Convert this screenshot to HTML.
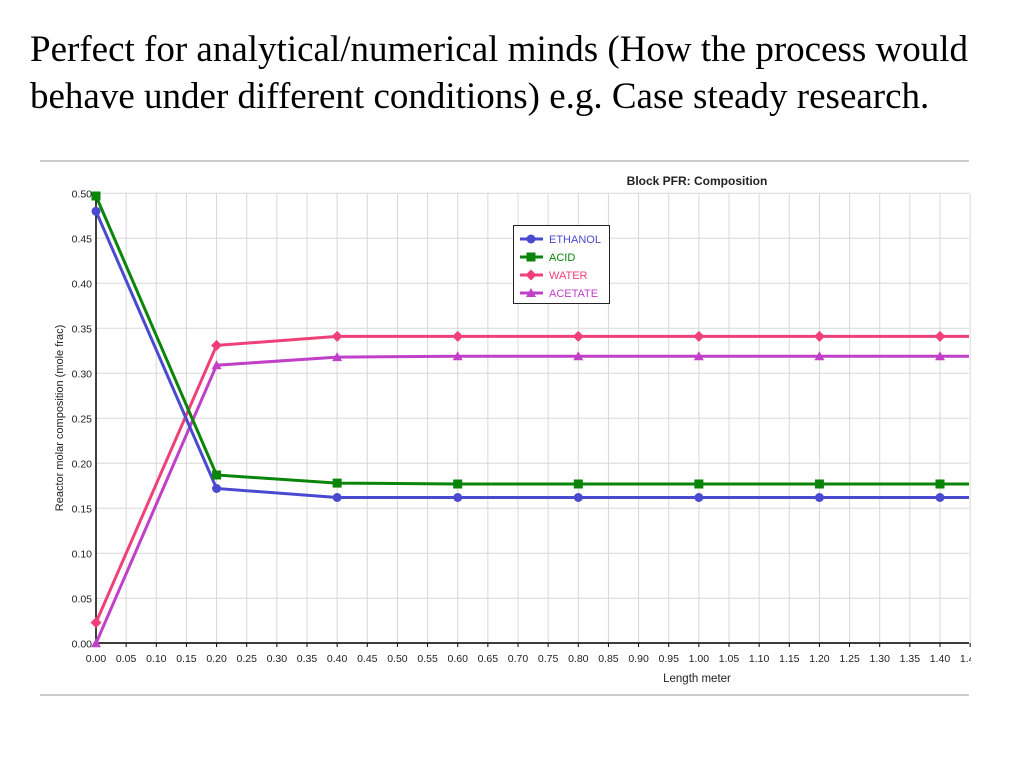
<!DOCTYPE html>
<html><head><meta charset="utf-8"><style>
body{margin:0;width:1024px;height:768px;background:#fff;overflow:hidden;position:relative}
#title{position:absolute;left:30px;top:26px;font-family:"Liberation Serif",serif;font-size:37px;line-height:47px;color:#000;margin:0;font-weight:normal;white-space:nowrap}
svg{position:absolute;left:0;top:0}
</style></head><body>
<h1 id="title">Perfect for analytical/numerical minds (How the process would<br>behave under different conditions) e.g. Case steady research.</h1>
<svg id="chart" width="1024" height="768" font-family="Liberation Sans, sans-serif"></svg>
<script>
const xVals=[0,0.2,0.4,0.6,0.8,1.0,1.2,1.4,1.6];
const ethanol=[0.480,0.172,0.162,0.162,0.162,0.162,0.162,0.162,0.162];
const acid=[0.497,0.187,0.178,0.177,0.177,0.177,0.177,0.177,0.177];
const water=[0.023,0.331,0.341,0.341,0.341,0.341,0.341,0.341,0.341];
const acetate=[0.000,0.309,0.318,0.319,0.319,0.319,0.319,0.319,0.319];
const seriesNames=["ETHANOL","ACID","WATER","ACETATE"];
const seriesColors=["#4a4ad0","#0a850a","#f0407a","#c040c8"];
const yTicks=[0,0.05,0.10,0.15,0.20,0.25,0.30,0.35,0.40,0.45,0.50];
const xTickCount=30;
const svg=document.getElementById('chart');
const NS='http://www.w3.org/2000/svg';
const X=v=>96+v*(844/1.4);
const Y=v=>643.3-v*900;
const L=96,R=969,T=193,B=643;
function mk(t,a,p){const e=document.createElementNS(NS,t);for(const k in a)e.setAttribute(k,a[k]);(p||svg).appendChild(e);return e;}
let e;
const clipAll=mk('clipPath',{id:'ca'});mk('rect',{x:0,y:0,width:971,height:768},clipAll);
const root=mk('g',{'clip-path':'url(#ca)'});


e=mk('line',{x1:40,y1:161,x2:969,y2:161,stroke:'#ccc','stroke-width':2},root);


e=mk('line',{x1:40,y1:695,x2:969,y2:695,stroke:'#ccc','stroke-width':2},root);


const clip=mk('clipPath',{id:'pc'});mk('rect',{x:L-10,y:T-10,width:R-L+10,height:B-T+20},clip);
for(let i=0;i<xTickCount;i++){const v=i*0.05;const x=X(v);
 e=mk('line',{x1:x,y1:T,x2:x,y2:B,stroke:'#d8d8d8'},root);
 
 
 e=mk('line',{x1:x,y1:B,x2:x,y2:B+4,stroke:'#000'},root);
 
 
 e=mk('text',{x:x,y:B+19,'font-size':10.5,'text-anchor':'middle',fill:'#222'},root);e.textContent=v.toFixed(2);
 
 }
for(const v of yTicks){const y=Y(v);
 e=mk('line',{x1:L,y1:y,x2:R,y2:y,stroke:'#d8d8d8'},root);
 
 
 e=mk('text',{x:L-4,y:y+4,'font-size':10.5,'text-anchor':'end',fill:'#222'},root);e.textContent=v.toFixed(2);
 
 }
e=mk('line',{x1:L,y1:T,x2:L,y2:B,stroke:'#000','stroke-width':1.5},root);


e=mk('line',{x1:L,y1:B,x2:R,y2:B,stroke:'#000','stroke-width':1.5},root);


e=mk('text',{x:697,y:682,'font-size':11.5,'text-anchor':'middle',fill:'#222'},root);e.textContent='Length meter';


e=mk('text',{x:0,y:0,'font-size':11,'text-anchor':'middle',fill:'#222',transform:'translate(63,418) rotate(-90)'},root);e.textContent='Reactor molar composition (mole frac)';


e=mk('text',{x:697,y:185,'font-size':12,'font-weight':'bold','text-anchor':'middle',fill:'#222'},root);e.textContent='Block PFR: Composition';


function marker(k,x,y,c,g){
 if(k==0)return mk('circle',{cx:x,cy:y,r:4.5,fill:c},g);
 if(k==1)return mk('rect',{x:x-4.5,y:y-4.5,width:9,height:9,fill:c},g);
 if(k==2)return mk('polygon',{points:`${x},${y-5.5} ${x+5.5},${y} ${x},${y+5.5} ${x-5.5},${y}`,fill:c},g);
 return mk('polygon',{points:`${x},${y-5} ${x+5},${y+4} ${x-5},${y+4}`,fill:c},g);}
const allSeries=[ethanol,acid,water,acetate];
const drawOrder=[3,2,0,1];
for(const s of drawOrder){const g=mk('g',{'clip-path':'url(#pc)'},root);
 
 
 const vals=allSeries[s];
 e=mk('polyline',{points:vals.map((v,i)=>X(xVals[i])+','+Y(v)).join(' '),fill:'none',stroke:seriesColors[s],'stroke-width':3},g);
 
 
 vals.forEach((v,i)=>{e=marker(s,X(xVals[i]),Y(v),seriesColors[s],g);
 
 });}
const lg=mk('g',{},root);


mk('rect',{x:513.5,y:225.5,width:96,height:78,fill:'#fff',stroke:'#222'},lg);
seriesNames.forEach((n,i)=>{const y=239+i*18;
 const g=mk('g',{},lg);
 
 
 mk('line',{x1:520,y1:y,x2:543,y2:y,stroke:seriesColors[i],'stroke-width':3},g);
 marker(i,531,y,seriesColors[i],g);
 const t=mk('text',{x:549,y:y+4,'font-size':11,fill:seriesColors[i]},g);t.textContent=n;});
</script>
</body></html>
